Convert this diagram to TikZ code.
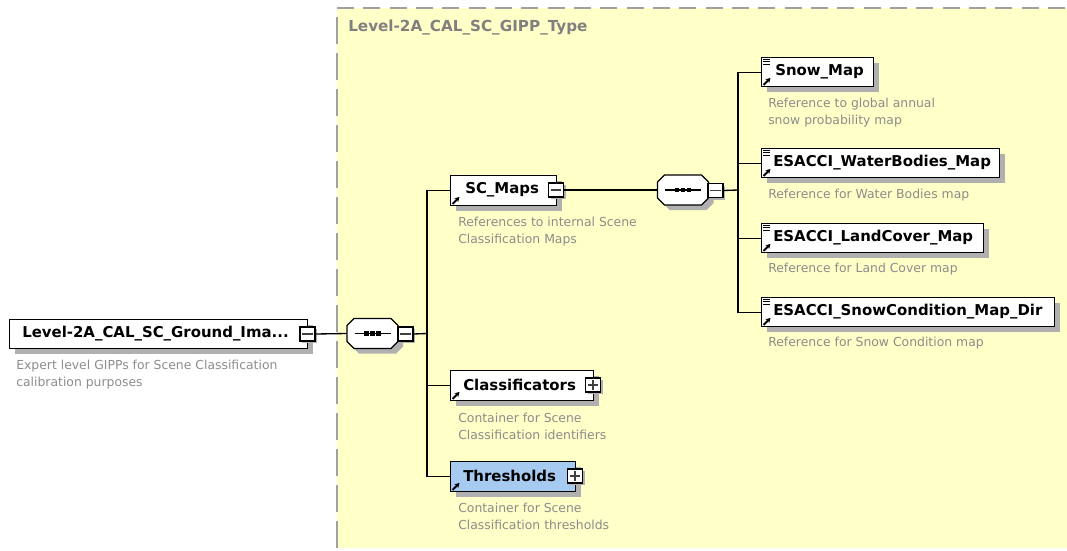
\documentclass[tikz,border=0pt]{standalone}
\usepackage{fontspec}
\setmainfont{DejaVu Sans}
\usetikzlibrary{shadows,arrows.meta}
\definecolor{bgy}{RGB}{255,255,200}
\definecolor{dashc}{RGB}{160,160,160}
\definecolor{titlec}{RGB}{128,128,128}
\definecolor{descc}{RGB}{140,140,140}
\definecolor{shadowc}{RGB}{176,176,176}
\definecolor{blueb}{RGB}{166,202,240}
\newcommand\octshape[2]{%
 \fill[shadowc] (#1-18.5+5,#2-15+5) -- (#1+18.5+5,#2-15+5) -- (#1+25.5+5,#2-8+5) -- (#1+25.5+5,#2+8+5) -- (#1+18.5+5,#2+15+5) -- (#1-18.5+5,#2+15+5) -- (#1-25.5+5,#2+8+5) -- (#1-25.5+5,#2-8+5) -- cycle;
 \draw[fill=white,line width=0.9pt] (#1-18.5,#2-15) -- (#1+18.5,#2-15) -- (#1+25.5,#2-8) -- (#1+25.5,#2+8) -- (#1+18.5,#2+15) -- (#1-18.5,#2+15) -- (#1-25.5,#2+8) -- (#1-25.5,#2-8) -- cycle;
 \draw[line width=1pt] (#1-18,#2) -- (#1+18,#2);
 \foreach \dx in {-6,0,6} {\fill (#1+\dx-2.2,#2-2.2) rectangle (#1+\dx+2.2,#2+2.2);}
}
\newcommand\refarrow[1]{\draw[line width=1.4pt,-{Stealth[length=3.5pt,width=4pt]}] ([shift={(2.5,-2.5)}]#1.south west) -- ++(7,-7);}
\newcommand\listicon[1]{%
 \foreach \dy in {2,4.5,7} {\draw[line width=0.6pt] ([shift={(2,\dy)}]#1.north west) -- ++(7,0);}}
\begin{document}
\begin{tikzpicture}[x=0.75pt,y=-0.75pt,
 elbox/.style={draw=black,line width=1.1pt,fill=white,anchor=north west,inner sep=0,
   general shadow={fill=shadowc,shadow xshift=3.75pt,shadow yshift=-3.75pt}},
 lbl/.style={anchor=west,inner sep=0,font=\bfseries\fontsize{11.2}{12}\selectfont},
 desc/.style={anchor=west,inner sep=0,align=left,text=descc,font=\fontsize{9.3}{12.75}\selectfont},
 pm/.style={draw=black,fill=white,line width=0.8pt,minimum width=11.25pt,minimum height=10.5pt,inner sep=0,
   general shadow={fill=shadowc,shadow xshift=1.8pt,shadow yshift=-1.8pt}},
 pmline/.style={line width=0.8pt,black!75},
 seq/.style={minimum width=38.25pt,minimum height=22.5pt,inner sep=0},
 conn/.style={line width=1pt}]
\useasboundingbox (0,0) rectangle (1067,550);
% container
\fill[bgy] (337,8) rectangle (1067,548);
\draw[dashc,line width=1.6pt,dash pattern=on 12.75pt off 7pt] (337,8) -- (1067,8);
\draw[dashc,line width=1.6pt,dash pattern=on 20pt off 7pt] (337,548) -- (337,8);
\node[anchor=west,inner sep=0,text=titlec,font=\bfseries\fontsize{11.4}{12}\selectfont] (title) at (348,28) {Level-2A\_CAL\_SC\_GIPP\_Type};
% root
\node[elbox,minimum width=223.5pt,minimum height=21.75pt] (root) at (9,319) {};
\node[lbl] (rootl) at (22,333.5) {Level-2A\_CAL\_SC\_Ground\_Ima...};
\node[pm] (rootm) at (307.5,334) {};
\draw[pmline] ([xshift=2pt]rootm.west) -- ([xshift=-2pt]rootm.east);
\node[desc] (rootd) at (16,374.5) {Expert level GIPPs for Scene Classification\\calibration purposes};
% sequence 1
\node[seq] (oct1) at (372.5,333.5) {};
\octshape{372.5}{333.5}
\node[pm] (oct1m) at (405.5,334) {};
\draw[pmline] ([xshift=2pt]oct1m.west) -- ([xshift=-2pt]oct1m.east);
\draw[conn] (rootm.east) -- (oct1.west);
\coordinate (j1) at (427,333.5);
\draw[conn] (oct1m.east) -- (j1);
% SC_Maps
\node[elbox,minimum width=79.5pt,minimum height=22.5pt] (scm) at (450,175) {};
\node[lbl] (scml) at (465,190) {SC\_Maps};
\refarrow{scm}
\node[pm] (scmm) at (556,190) {};
\draw[pmline] ([xshift=2pt]scmm.west) -- ([xshift=-2pt]scmm.east);
\node[desc] (scmd) at (458,231.5) {References to internal Scene\\Classification Maps};
% Classificators
\node[elbox,minimum width=107.25pt,minimum height=22.5pt] (cls) at (450,370) {};
\node[lbl] (clsl) at (463,385) {Classificators};
\refarrow{cls}
\node[pm] (clsp) at (593,385) {};
\draw[pmline] ([xshift=2pt]clsp.west) -- ([xshift=-2pt]clsp.east);
\draw[pmline] ([yshift=2pt]clsp.south) -- ([yshift=-2pt]clsp.north);
\node[desc] (clsd) at (458,426.5) {Container for Scene\\Classification identifiers};
% Thresholds
\node[elbox,fill=blueb,minimum width=93.75pt,minimum height=22.5pt] (thr) at (450,461) {};
\node[lbl] (thrl) at (463,476) {Thresholds};
\refarrow{thr}
\node[pm] (thrp) at (575,476) {};
\draw[pmline] ([xshift=2pt]thrp.west) -- ([xshift=-2pt]thrp.east);
\draw[pmline] ([yshift=2pt]thrp.south) -- ([yshift=-2pt]thrp.north);
\node[desc] (thrd) at (458,516.5) {Container for Scene\\Classification thresholds};
% trunk 1
\draw[conn] (j1) |- (scm.west);
\draw[conn] (j1) |- (cls.west);
\draw[conn] (j1) |- (thr.west);
% sequence 2
\node[seq] (oct2) at (683,190) {};
\octshape{683}{190}
\node[pm] (oct2m) at (715.5,190.5) {};
\draw[pmline] ([xshift=2pt]oct2m.west) -- ([xshift=-2pt]oct2m.east);
\draw[conn] (scmm.east) -- (oct2.west);
\coordinate (j2) at (738,190);
\draw[conn] (oct2m.east) -- (j2);
% map elements
\node[elbox,minimum width=84pt,minimum height=21.75pt] (snow) at (761,57) {};
\node[lbl] (snowl) at (775,71.5) {Snow\_Map};
\refarrow{snow}\listicon{snow}
\node[desc] (snowd) at (768,112.5) {Reference to global annual\\snow probability map};
\node[elbox,minimum width=178.5pt,minimum height=21.75pt] (wb) at (761,148) {};
\node[lbl] (wbl) at (773,162.5) {ESACCI\_WaterBodies\_Map};
\refarrow{wb}\listicon{wb}
\node[desc] (wbd) at (768,195) {Reference for Water Bodies map};
\node[elbox,minimum width=166.5pt,minimum height=21.75pt] (lc) at (761,223) {};
\node[lbl] (lcl) at (773,237.5) {ESACCI\_LandCover\_Map};
\refarrow{lc}\listicon{lc}
\node[desc] (lcd) at (768,269) {Reference for Land Cover map};
\node[elbox,minimum width=219.75pt,minimum height=21.75pt] (sc) at (761,297) {};
\node[lbl] (scl) at (773,311.5) {ESACCI\_SnowCondition\_Map\_Dir};
\refarrow{sc}\listicon{sc}
\node[desc] (scd) at (768,343) {Reference for Snow Condition map};
\draw[conn] (j2) |- (snow.west);
\draw[conn] (j2) |- (wb.west);
\draw[conn] (j2) |- (lc.west);
\draw[conn] (j2) |- (sc.west);
\end{tikzpicture}
\end{document}
